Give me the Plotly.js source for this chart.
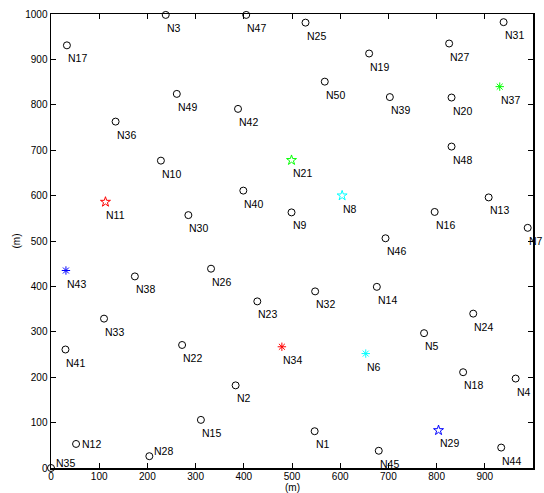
<!DOCTYPE html>
<html>
<head>
<meta charset="utf-8">
<script src="https://cdn.plot.ly/plotly-3.0.1.min.js"></script>
<style>html,body{margin:0;padding:0;background:#fff;}#chart{width:544px;height:493px;}</style>
</head>
<body>
<div id="chart"></div>
<script>
// Node data
var nodeNames = ['N1','N2','N3','N4','N5','N6','N7','N8','N9','N10',
                 'N11','N12','N13','N14','N15','N16','N17','N18','N19','N20',
                 'N21','N22','N23','N24','N25','N26','N27','N28','N29','N30',
                 'N31','N32','N33','N34','N35','N36','N37','N38','N39','N40',
                 'N41','N42','N43','N44','N45','N46','N47','N48','N49','N50'];
var nodeX = [547,383,238,964,774,653,989,604,499,228,
             113,52,908,676,311,796,33,855,660,831,
             499,272,428,876,528,332,826,204,804,285,
             939,548,110,479,0,134,931,174,703,399,
             30,388,31,934,680,694,405,831,261,568];
var nodeY = [81,182,998,197,297,252,529,600,563,677,
             586,53,596,399,106,564,931,211,913,816,
             678,271,367,340,981,439,935,26,83,557,
             982,389,329,267,0,763,840,422,817,611,
             261,791,435,45,38,506,998,708,824,851];
// node kind: 'o' plain node, 'star' and 'ast' special nodes
var nodeKind = ['o','o','o','o','o','ast','o','star','o','o',
                'star','o','o','o','o','o','o','o','o','o',
                'star','o','o','o','o','o','o','o','star','o',
                'o','o','o','ast','o','o','ast','o','o','o',
                'o','o','ast','o','o','o','o','o','o','o'];
// group of the special nodes (pairs)
var nodeGroup = ['','','','','','C','','C','','',
                 'A','','','','','','','','','',
                 'B','','','','','','','','D','',
                 '','','','A','','','B','','','',
                 '','','D','','','','','','',''];
// labels placed to the right instead of below
var labelRight = {'N12':'mid','N28':'up','N35':'up'};
var axisTitle = '(m)';

var groupColor = {'':'#000000','A':'#ff0000','B':'#00ff00','C':'#00ffff','D':'#0000ff'};
var kindSymbol = {'o':'circle-open','star':'star-open','ast':'asterisk-open'};
var kindSize = {'o':7,'star':7.5,'ast':7};
var FONT = 'Liberation Sans, Arial, sans-serif';

var traces = [];
var keys = [];
for (var i = 0; i < nodeNames.length; i++) {
  var k = nodeKind[i] + '|' + nodeGroup[i];
  if (keys.indexOf(k) < 0) keys.push(k);
}
keys.forEach(function (k) {
  var parts = k.split('|');
  var xs = [], ys = [], tx = [];
  for (var i = 0; i < nodeNames.length; i++) {
    if (nodeKind[i] === parts[0] && nodeGroup[i] === parts[1]) {
      xs.push(nodeX[i]); ys.push(nodeY[i]); tx.push(nodeNames[i]);
    }
  }
  traces.push({
    type: 'scatter', mode: 'markers', x: xs, y: ys, text: tx,
    hoverinfo: 'text', showlegend: false, cliponaxis: false,
    marker: {symbol: kindSymbol[parts[0]], size: kindSize[parts[0]],
             color: groupColor[parts[1]],
             line: {color: groupColor[parts[1]], width: 1}}
  });
});

var annotations = nodeNames.map(function (n, i) {
  var pos = labelRight[n];
  var xs = -1, ys = -13;
  if (pos === 'mid') { xs = 4; ys = 0; }
  if (pos === 'up') { xs = 3; ys = 5; }
  return {x: nodeX[i], y: nodeY[i], xref: 'x', yref: 'y', text: n,
          showarrow: false, xanchor: 'left', yanchor: 'middle',
          xshift: xs, yshift: ys,
          font: {family: FONT, size: 10.5, color: '#000'}};
});
// x axis title
annotations.push({x: 0.5, y: 0, xref: 'paper', yref: 'paper', text: axisTitle,
  showarrow: false, xanchor: 'center', yanchor: 'top', yshift: -13, borderpad: 0,
  font: {family: FONT, size: 10, color: '#000'}});

var axisCommon = {
  range: [0, 1000], dtick: 100, tick0: 0, ticks: 'inside', ticklen: 5,
  tickcolor: '#000', tickwidth: 1, showline: true, linecolor: '#000', linewidth: 1.5,
  mirror: 'ticks', showgrid: false, zeroline: false, fixedrange: true,
  tickfont: {family: FONT, size: 10, color: '#000'}
};

var layout = {
  width: 544, height: 493,
  margin: {l: 51, r: 11, t: 14, b: 25},
  paper_bgcolor: '#fff', plot_bgcolor: '#fff',
  xaxis: Object.assign({}, axisCommon, {ticklabelstandoff: -2}),
  yaxis: Object.assign({}, axisCommon, {
    title: {text: axisTitle, standoff: 3, font: {family: FONT, size: 10, color: '#000'}}
  }),
  annotations: annotations
};

Plotly.newPlot('chart', traces, layout, {displayModeBar: false, staticPlot: true});
</script>
</body>
</html>
